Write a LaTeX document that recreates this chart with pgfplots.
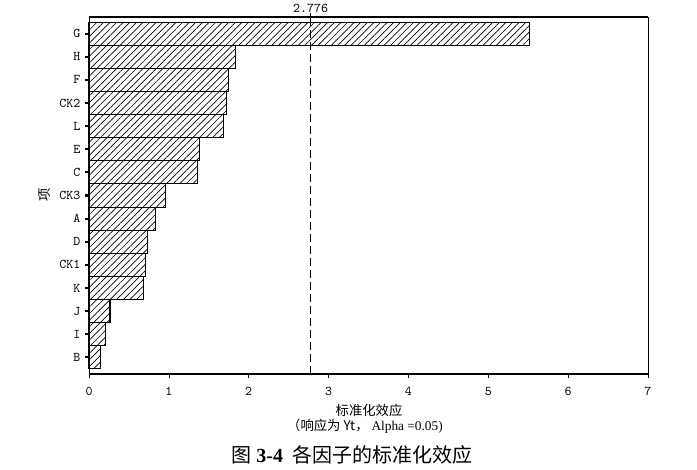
\documentclass[border=0pt]{standalone}
\usepackage{pgfplots}
\pgfplotsset{compat=1.18}
\usepackage{fontspec}
\usetikzlibrary{patterns.meta}
\newfontfamily\cjk{Noto Sans CJK SC}
\newfontfamily\tms{Liberation Serif}
\begin{document}
\begin{tikzpicture}[x=0.75pt,y=0.75pt]
\begin{axis}[
    at={(66.75pt,-12.75pt)}, anchor=north west,
    scale only axis, width=419.25pt, height=267.75pt,
    xmin=0, xmax=7, ymin=-0.72, ymax=14.72,
    xtick={0,...,7},
    ytick={0,...,14},
    yticklabels={B,I,J,K,CK1,D,A,CK3,C,E,L,CK2,F,H,G},
    xtick pos=bottom, ytick pos=left,
    tick align=outside,
    x tick style={black, thin}, y tick style={black, line width=1.6pt},
    major tick length=3pt,
    tick label style={font=\fontsize{10}{12}\selectfont\ttfamily},
    x tick label style={yshift=-3.5pt},
    /pgf/number format/assume math mode=true,
    axis line style={black, line width=0.5pt},
    clip=false,
]
\addplot[xbar, bar width=1, draw=black, line width=0.8pt,
    pattern={Lines[angle=45, distance=3.5pt, line width=0.5pt]}]
  coordinates {
    (0.146,0) (0.204,1) (0.263,2) (0.68,3) (0.705,4) (0.73,5) (0.835,6)
    (0.96,7) (1.36,8) (1.38,9) (1.69,10) (1.72,11) (1.75,12) (1.84,13) (5.52,14)
  };
\draw[dash pattern=on 6pt off 3pt, line width=0.6pt] (axis cs:2.776,-0.72) -- (axis cs:2.776,14.72);
\draw[line width=1.6pt] (rel axis cs:0,0) -- (rel axis cs:1,0);
\draw[line width=1.6pt] (rel axis cs:0,1) -- (rel axis cs:1,1);
\draw[line width=0.6pt] ([yshift=-3pt]axis cs:2.776,14.72) -- ([yshift=3pt]axis cs:2.776,14.72)
  node[above, inner sep=0pt, font=\fontsize{10}{12}\selectfont\ttfamily] {2.776};
\end{axis}
\node[rotate=90, font=\fontsize{10}{12}\selectfont\cjk] at (45,-195) {项};
\node[font=\fontsize{10}{12}\selectfont\cjk] at (369,-410) {标准化效应};
\node[font=\fontsize{10}{12}\selectfont\cjk] at (365,-426) {（响应为 Yt，\ {\tms Alpha =0.05)}};
\node[font=\fontsize{15}{18}\selectfont\cjk] at (352,-455) {图 {\tms\bfseries 3-4}\ \ 各因子的标准化效应};
\pgfresetboundingbox
\useasboundingbox (0,0) rectangle (697,-469);
\end{tikzpicture}
\end{document}
